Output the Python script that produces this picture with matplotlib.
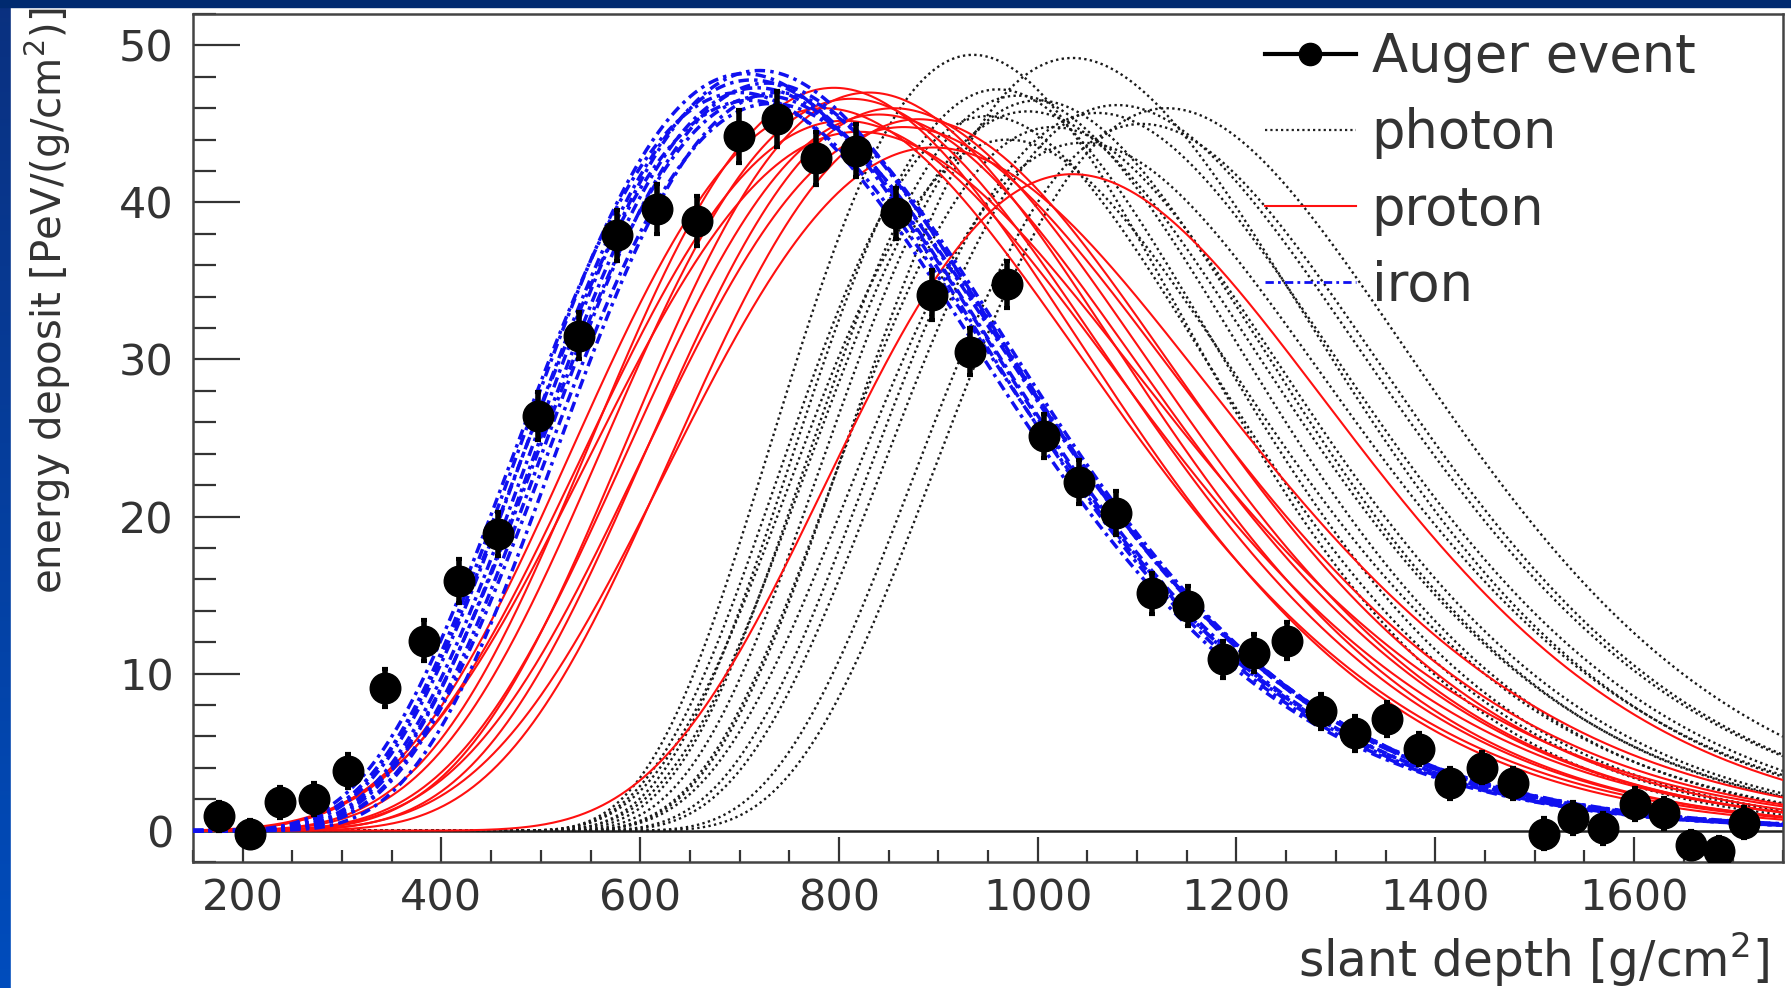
import numpy as np
import matplotlib
matplotlib.use('Agg')
import matplotlib.pyplot as plt  # noqa: E402
from matplotlib.lines import Line2D  # noqa: E402
from matplotlib.patches import Rectangle  # noqa: E402
from matplotlib.ticker import MultipleLocator  # noqa: E402

W, H = 1791, 988

# -- Auger event (longitudinal profile) ---------------------------------------
depth = [176, 207, 238, 272, 306, 343, 382, 418, 457, 497, 538, 577, 617, 657,
         699, 738, 777, 817, 857, 894, 932, 969, 1006, 1042, 1079, 1115, 1151,
         1186, 1218, 1251, 1285, 1319, 1352, 1384, 1415, 1447, 1478, 1509,
         1539, 1569, 1601, 1630, 1657, 1686, 1711]
deposit = [0.9, -0.2, 1.8, 2.0, 3.8, 9.1, 12.1, 15.9, 18.9, 26.4, 31.5, 37.9,
           39.6, 38.8, 44.2, 45.3, 42.8, 43.3, 39.3, 34.1, 30.5, 34.8, 25.1,
           22.2, 20.2, 15.1, 14.3, 10.9, 11.3, 12.1, 7.6, 6.2, 7.1, 5.2, 3.0,
           4.0, 3.0, -0.2, 0.8, 0.15, 1.7, 1.1, -0.9, -1.3, 0.5]
deposit_err = [0.9, 0.9, 1.0, 1.0, 1.1, 1.2, 1.3, 1.4, 1.4, 1.5, 1.5, 1.6,
               1.6, 1.6, 1.7, 1.8, 1.7, 1.7, 1.6, 1.6, 1.5, 1.5, 1.4, 1.4,
               1.4, 1.3, 1.3, 1.2, 1.2, 1.2, 1.1, 1.1, 1.1, 1.0, 1.0, 1.0,
               1.0, 1.0, 1.0, 1.0, 1.0, 1.0, 0.9, 0.9, 1.0]

# -- simulated showers: Xmax, peak deposit, width -----------------------------
photon_xmax = [935, 950, 960, 970, 980, 990, 1000, 1015, 1035, 1045, 1060,
               1080, 1105, 1130]
photon_peak = [49.4, 45.5, 47.2, 44.0, 46.8, 45.8, 46.5, 44.8, 49.2, 43.8,
               45.7, 46.2, 45.0, 46.0]
photon_width = [205, 212, 210, 222, 215, 225, 220, 222, 230, 235, 232, 238,
                232, 236]

proton_xmax = [785, 795, 805, 812, 820, 830, 840, 855, 865, 880, 895, 1035]
proton_peak = [46.0, 47.3, 45.2, 46.6, 44.5, 47.0, 45.6, 46.0, 44.8, 45.3,
               43.5, 41.8]
proton_width = [255, 245, 265, 250, 275, 245, 255, 250, 265, 250, 270, 250]

iron_xmax = [700, 705, 710, 712, 718, 720, 725, 728, 732, 738]
iron_peak = [47.0, 48.2, 46.5, 47.8, 47.3, 48.4, 46.8, 47.6, 46.3, 47.0]
iron_width = [230, 228, 232, 230, 226, 230, 232, 228, 230, 226]

PHOTON_R, PROTON_R, IRON_R = 0.42, 0.33, 0.40

RED = '#ff1010'
BLUE = '#1010f0'
TEXT = '#333333'


def gaisser_hillas(x, xmax, peak, width, r):
    # Gaisser-Hillas profile in the (L, R) form
    t = 1 + r * (x - xmax) / width
    out = np.zeros_like(x)
    ok = t > 0
    out[ok] = peak * t[ok] ** (1 / r ** 2) * np.exp(-(x[ok] - xmax) / (r * width))
    return out


fig = plt.figure(figsize=(W / 100, H / 100), dpi=100)

# -- slide background ---------------------------------------------------------
bg = fig.add_axes([0, 0, 1, 1])
bg.axis('off')
grad = np.linspace(0, 1, 256)[:, None, None]
top_c = np.array([0.04, 0.19, 0.50])
bot_c = np.array([0.0, 0.30, 0.74])
bg.imshow(top_c + (bot_c - top_c) * grad, extent=[0, 1, 0, 1], aspect='auto')
bg.add_patch(Rectangle((11 / W, 0), 1, 1 - 7 / H, color='white',
                       transform=bg.transAxes))
bg.add_patch(Rectangle((0, 1 - 7 / H), 1, 7 / H, color='#002a70',
                       transform=bg.transAxes))
bg.set_xlim(0, 1)
bg.set_ylim(0, 1)

ax = fig.add_axes([193 / W, 1 - 862 / H, (1783 - 193) / W, (862 - 14) / H])
ax.set_facecolor('white')

xs = np.linspace(150, 1750, 800)
for xm, pk, wd in zip(photon_xmax, photon_peak, photon_width):
    ax.plot(xs, gaisser_hillas(xs, xm, pk, wd, PHOTON_R), color='#1a1a1a',
            lw=1.7, ls=(0, (1, 1.4)), zorder=2)
for xm, pk, wd in zip(proton_xmax, proton_peak, proton_width):
    ax.plot(xs, gaisser_hillas(xs, xm, pk, wd, PROTON_R), color=RED,
            lw=1.5, zorder=3)
for xm, pk, wd in zip(iron_xmax, iron_peak, iron_width):
    ax.plot(xs, gaisser_hillas(xs, xm, pk, wd, IRON_R), color=BLUE,
            lw=2.5, ls=(0, (3, 1.5, 1, 1.5)), zorder=4)

ax.axhline(0, color='#222222', lw=1.8, zorder=1)
ax.errorbar(depth, deposit, yerr=deposit_err, fmt='o', color='black',
            ms=22, elinewidth=4, capsize=2.5, capthick=3, zorder=10)

ax.set_xlim(150, 1750)
ax.set_ylim(-2, 52)
ax.xaxis.set_major_locator(MultipleLocator(200))
ax.xaxis.set_minor_locator(MultipleLocator(50))
ax.yaxis.set_major_locator(MultipleLocator(10))
ax.yaxis.set_minor_locator(MultipleLocator(2))
ax.tick_params(which='both', direction='in', top=False, right=False,
               colors='#333333', width=1.6, labelsize=31, labelcolor=TEXT)
ax.tick_params(axis='x', which='major', length=18, pad=11)
ax.tick_params(axis='x', which='minor', length=8.5)
ax.tick_params(axis='y', which='major', length=34, pad=14)
ax.tick_params(axis='y', which='minor', length=16.5)
for sp in ax.spines.values():
    sp.set_color('#444444')
    sp.set_linewidth(1.8)

fig.text(1770 / W, 1 - 977 / H, 'slant depth [g/cm$^2$]', ha='right',
         va='baseline', fontsize=35, color=TEXT)
fig.text(48 / W, 1 - 8 / H, 'energy deposit [PeV/(g/cm$^2$)]', rotation=90,
         ha='center', va='top', fontsize=29, color=TEXT)

handles = [
    Line2D([], [], color='black', marker='o', ms=16, lw=3),
    Line2D([], [], color='#222222', lw=1.6, ls=(0, (1, 1.4))),
    Line2D([], [], color=RED, lw=1.5),
    Line2D([], [], color=BLUE, lw=2.0, ls=(0, (3, 1.5, 1, 1.5))),
]
labels = ['Auger event', 'photon', 'proton', 'iron']
fig.legend(handles, labels, loc='upper left',
           bbox_to_anchor=(1265 / W, 1 - 31 / H), frameon=False,
           fontsize=38, borderpad=0, borderaxespad=0, handlelength=1.72,
           handletextpad=0.3, labelspacing=0.46, labelcolor=TEXT)

fig.savefig('out.png', dpi=100)
